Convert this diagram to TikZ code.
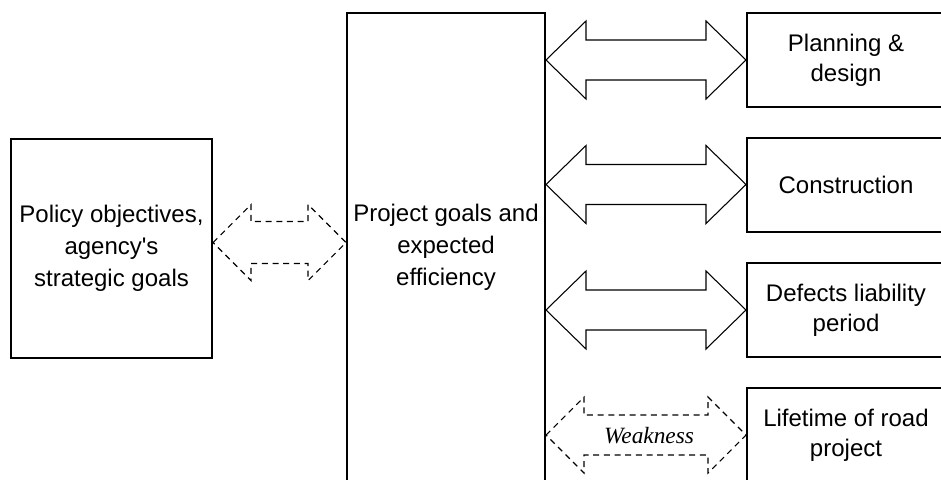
\documentclass[tikz,border=0pt]{standalone}
\usepackage{fontspec}
\setmainfont{Liberation Sans}
\newfontfamily\weakfont{Liberation Serif}
\usetikzlibrary{calc}

% Two-headed block arrow between two points:
% [style]{from}{to}{head length}{head half-height}{shaft half-height}
\newcommand\twohead[6][]{%
  \draw[#1] (#2) -- ($(#2)+(#4,-#5)$) -- ($(#2)+(#4,-#6)$)
    -- ($(#3)+(-#4,-#6)$) -- ($(#3)+(-#4,-#5)$) -- (#3)
    -- ($(#3)+(-#4,#5)$) -- ($(#3)+(-#4,#6)$)
    -- ($(#2)+(#4,#6)$) -- ($(#2)+(#4,#5)$) -- cycle;}

\begin{document}
\begin{tikzpicture}[x=0.75pt,y=-0.75pt,
  box/.style={draw=black,line width=1.5pt,inner sep=0pt,align=center,
    font=\fontsize{18}{24}\selectfont},
  sidebox/.style={box,minimum width=148.5pt,minimum height=70.5pt,
    font=\fontsize{18}{22.5}\selectfont},
  solidarrow/.style={draw=black,line width=0.8pt,line join=miter},
  dasharrow/.style={solidarrow,dash pattern=on 4.5pt off 3.5pt},
  plain/.style={inner sep=0pt,align=center,font=\fontsize{18}{24}\selectfont}]

\useasboundingbox (0,0) rectangle (941,479);
\clip (0,0) rectangle (941,479);

% boxes
\node[box,minimum width=150.75pt,minimum height=164.25pt] (pol) at (111.5,248.5)
  {Policy objectives,\\agency\textquotesingle s\\strategic goals};
\node[box,minimum width=148.5pt,minimum height=380.25pt] (mid) at (446,266.5) {};
\node[plain] (midtext) at (446,247) {Project goals and\\expected\\efficiency};

\node[sidebox] (plan) at (846,60)    {Planning \&\\design};
\node[sidebox] (cons) at (846,184.5) {Construction};
\node[sidebox] (defe) at (846,310)   {Defects liability\\period};
\node[sidebox] (life) at (846,435)   {Lifetime of road\\project};

% arrow end points on the box edges
\coordinate (pA) at ([yshift=4.5pt]pol.east);
\coordinate (pB) at (mid.west |- pA);
\coordinate (a1) at (mid.east |- plan.west);
\coordinate (a2) at (mid.east |- cons.west);
\coordinate (a3) at (mid.east |- defe.west);
\coordinate (a4) at (mid.east |- life.west);

% connectors
\twohead[dasharrow]{pA}{pB}{38}{38}{21}
\twohead[solidarrow]{a1}{plan.west}{40}{39}{20}
\twohead[solidarrow]{a2}{cons.west}{40}{39}{20}
\twohead[solidarrow]{a3}{defe.west}{40}{39}{20}
\twohead[dasharrow]{a4}{life.west}{38}{38}{20}

\node[inner sep=0pt,font=\weakfont\itshape\fontsize{17.5}{20}\selectfont]
  (weak) at ($(a4)!0.5!(life.west)+(3,1)$) {Weakness};
\end{tikzpicture}
\end{document}
